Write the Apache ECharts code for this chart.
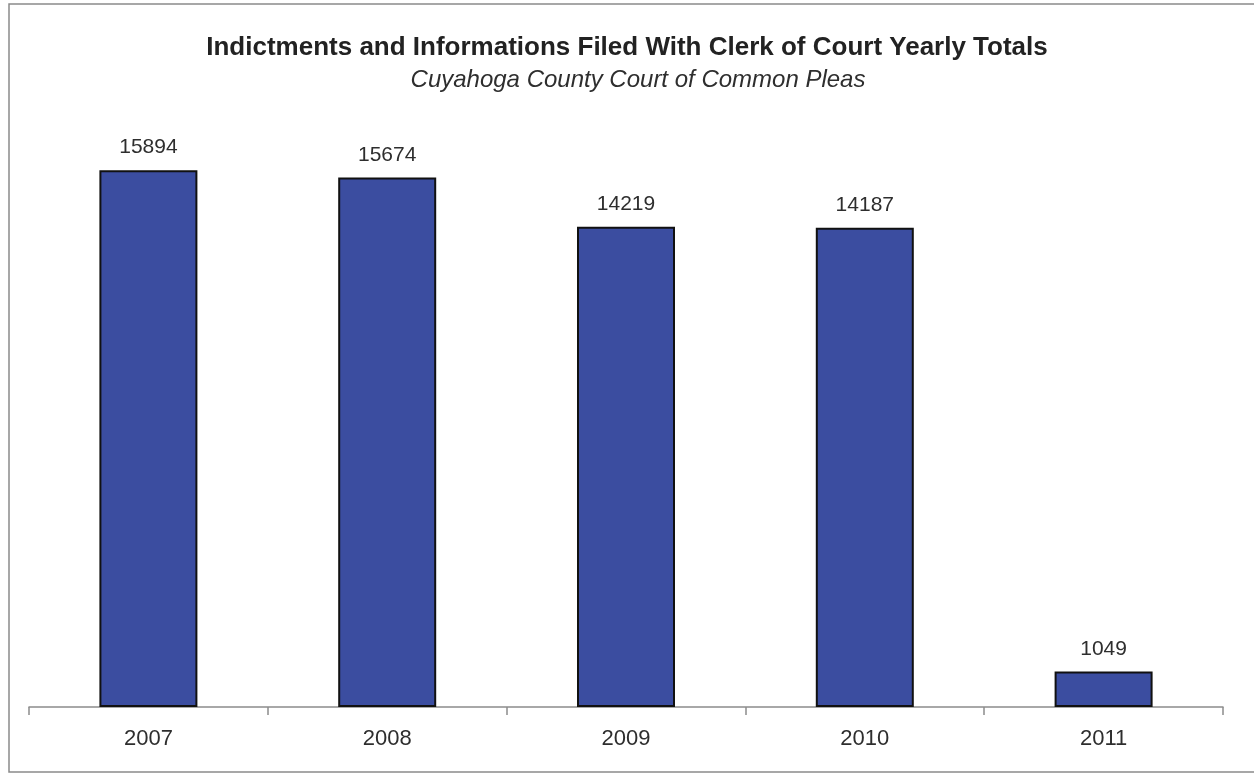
<!DOCTYPE html>
<html>
<head>
<meta charset="utf-8">
<script src="https://cdn.jsdelivr.net/npm/echarts@6/dist/echarts.min.js"></script>
<style>
  html, body { margin: 0; padding: 0; background: #fff; }
  #chart { width: 1254px; height: 775px; }
</style>
</head>
<body>
<div id="chart"></div>
<script>
// yearly totals
var years = ['2007', '2008', '2009', '2010', '2011'];
var totals = [15894, 15674, 14219, 14187, 1049];

var myChart = echarts.init(document.getElementById('chart'));
var option = {
  backgroundColor: '#fff',
  textStyle: { fontFamily: '"Liberation Sans", Arial, sans-serif' },
  title: [{
    text: 'Indictments and Informations Filed With Clerk of Court Yearly Totals',
    left: 622, textAlign: 'center', top: 30,
    textStyle: { fontSize: 26, fontWeight: 'bold', color: '#222' }
  }, {
    text: 'Cuyahoga County Court of Common Pleas',
    left: 633, textAlign: 'center', top: 63,
    textStyle: { fontSize: 24, fontStyle: 'italic', fontWeight: 'normal', color: '#2e2e2e' }
  }],
  graphic: [{
    type: 'rect',
    shape: { x: 9, y: 4, width: 1260, height: 768 },
    style: { fill: 'none', stroke: '#8a8a8a', lineWidth: 1.5 }
  }],
  grid: { left: 29, right: 31, top: 99, bottom: 68 },
  xAxis: {
    type: 'category',
    data: years,
    axisLine: { lineStyle: { color: '#8c8c8c', width: 1.5 } },
    axisTick: { show: true, length: 8, lineStyle: { color: '#8c8c8c', width: 1.5 } },
    axisLabel: { color: '#2e2e2e', fontSize: 22, margin: 21 }
  },
  yAxis: {
    type: 'value', min: 0, max: 18000,
    show: false,
    splitLine: { show: false }
  },
  series: [{
    type: 'bar',
    data: totals,
    barWidth: 98,
    itemStyle: { color: '#3b4da0', borderColor: '#111', borderWidth: 2 },
    label: { show: true, position: 'top', distance: 12, color: '#2e2e2e', fontSize: 21 }
  }]
};
myChart.setOption(option);
</script>
</body>
</html>
